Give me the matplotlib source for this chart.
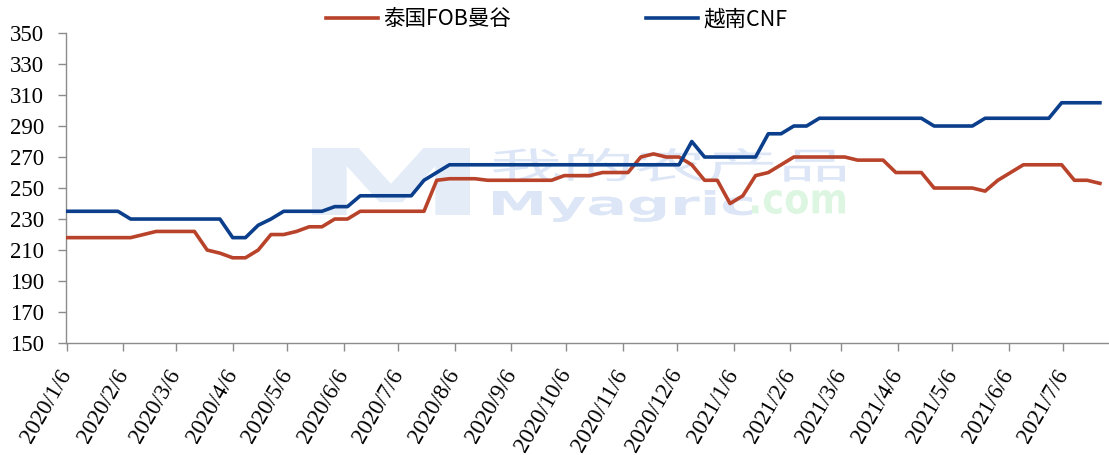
import pandas as pd
import numpy as np
import matplotlib
matplotlib.use('Agg')
import matplotlib.pyplot as plt
from matplotlib.textpath import TextPath
from matplotlib.patches import PathPatch
from matplotlib.font_manager import FontProperties
from matplotlib.transforms import Affine2D

# weekly prices, starting 2020/1/6
start_date = '2020-01-06'
thai_fob = [218, 218, 218, 218, 218, 218, 220, 222, 222, 222,
            222, 210, 208, 205, 205, 210, 220, 220, 222, 225,
            225, 230, 230, 235, 235, 235, 235, 235, 235, 255,
            256, 256, 256, 255, 255, 255, 255, 255, 255, 258,
            258, 258, 260, 260, 260, 270, 272, 270, 270, 265,
            255, 255, 240, 245, 258, 260, 265, 270, 270, 270,
            270, 270, 268, 268, 268, 260, 260, 260, 250, 250,
            250, 250, 248, 255, 260, 265, 265, 265, 265, 255,
            255, 253]
vietnam_cnf = [235, 235, 235, 235, 235, 230, 230, 230, 230, 230,
               230, 230, 230, 218, 218, 226, 230, 235, 235, 235,
               235, 238, 238, 245, 245, 245, 245, 245, 255, 260,
               265, 265, 265, 265, 265, 265, 265, 265, 265, 265,
               265, 265, 265, 265, 265, 265, 265, 265, 265, 280,
               270, 270, 270, 270, 270, 285, 285, 290, 290, 295,
               295, 295, 295, 295, 295, 295, 295, 295, 290, 290,
               290, 290, 295, 295, 295, 295, 295, 295, 305, 305,
               305, 305]
series_names = ['泰国FOB曼谷', '越南CNF']
y_ticks = [150, 170, 190, 210, 230, 250, 270, 290, 310, 330, 350]

dates = pd.date_range(start_date, periods=len(thai_fob), freq='7D')
tick_dates = pd.date_range('2020-01-01', '2021-07-01', freq='MS') + pd.Timedelta(days=5)

fig = plt.figure(figsize=(11.09, 4.55), dpi=100)
ax = fig.add_axes([0.0595, 0.246, 0.9405, 0.6815])

ax.plot(dates, thai_fob, color='#B8432A', linewidth=2.6, label=series_names[0], zorder=3)
ax.plot(dates, vietnam_cnf, color='#0B3F8C', linewidth=2.6, label=series_names[1], zorder=3)

ax.set_ylim(150, 350)
ax.set_yticks(y_ticks)
ax.set_xlim(dates[0] - pd.Timedelta(days=0.5), dates[0] + pd.Timedelta(days=572))
ax.set_xticks(tick_dates)
ax.set_xticklabels([f'{d.year}/{d.month}/{d.day}' for d in tick_dates])

for side in ['top', 'right']:
    ax.spines[side].set_visible(False)
for side in ['left', 'bottom']:
    ax.spines[side].set_color('#8C8C8C')
    ax.spines[side].set_linewidth(1.0)

serif = FontProperties(family='Liberation Serif', size=16.5)
ax.tick_params(axis='both', direction='out', length=6, width=1, color='#8C8C8C')
ax.tick_params(axis='y', pad=10)
ax.tick_params(axis='x', pad=14)
for lab in ax.get_yticklabels():
    lab.set_fontproperties(serif)
for lab in ax.get_xticklabels():
    lab.set_fontproperties(serif)
    lab.set_rotation(60)
    lab.set_ha('right')
    lab.set_va('center')
    lab.set_rotation_mode('anchor')


# faint site watermark behind the lines
def fit_text(s, box, color, family='Noto Sans CJK SC', weight='bold'):
    tp = TextPath((0, 0), s, size=10, prop=FontProperties(family=family, weight=weight))
    ext = tp.get_extents()
    x0, y0, x1, y1 = box
    W, H = 1109.0, 455.0
    tr = (Affine2D().translate(-ext.x0, -ext.y0)
          .scale((x1 - x0) / ext.width / W, (y1 - y0) / ext.height / H)
          .translate(x0 / W, 1 - y1 / H))
    fig.patches.append(PathPatch(tp, transform=tr + fig.transFigure, facecolor=color,
                                 edgecolor='none', zorder=-1))

fit_text('M', (312, 148, 470, 215), '#E4ECF8', family='DejaVu Sans')
fit_text('我的农产品', (493, 148, 845, 182), '#DCE6F6', weight='regular')
fit_text('Myagric', (493, 190, 752, 222), '#DCE6F6', family='DejaVu Sans')
fit_text('.com', (752, 190, 845, 214), '#DDF6E1', family='DejaVu Sans')
ax.patch.set_alpha(0)

leg = fig.legend(loc='center', bbox_to_anchor=(0.502, 0.958), ncol=2, frameon=False,
                 handlelength=2.4, columnspacing=6.3, handletextpad=0.25,
                 prop=FontProperties(family=['Noto Sans CJK SC', 'DejaVu Sans'], size=15.5))

fig.savefig('out.png', dpi=100)
